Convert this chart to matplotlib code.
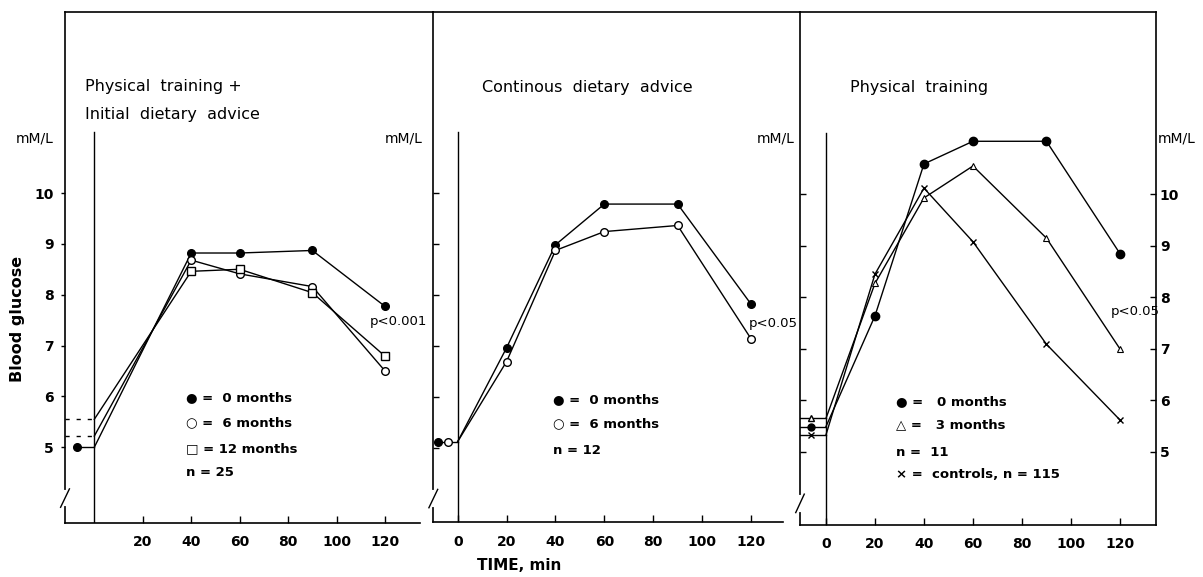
import matplotlib
matplotlib.use("Agg")
import matplotlib.pyplot as plt

plt.rcParams['font.family'] = ['DejaVu Sans']

# ---------------- data ----------------
# Panel 1: Physical training + initial dietary advice (n = 25)
p1_t = [0, 40, 60, 90, 120]
p1_m0 = [5.00, 8.82, 8.82, 8.87, 7.77]
p1_m6 = [5.22, 8.68, 8.41, 8.16, 6.50]
p1_m12 = [5.55, 8.46, 8.50, 8.04, 6.79]
p1_base_t = [-7, -12, -12]
p1_base_v = [5.00, 5.22, 5.55]

# Panel 2: Continous dietary advice (n = 12)
p2_t = [0, 20, 40, 60, 90, 120]
p2_m0 = [5.12, 6.96, 8.98, 9.78, 9.78, 7.82]
p2_m6 = [5.12, 6.69, 8.87, 9.24, 9.36, 7.14]
p2_base_t = [-8, -4]
p2_base_v = [5.12, 5.12]

# Panel 3: Physical training (n = 11) + controls (n = 115)
p3_t = [0, 20, 40, 60, 90, 120]
p3_m0 = [5.49, 7.64, 10.59, 11.03, 11.03, 8.85]
p3_m3 = [5.65, 8.27, 9.93, 10.55, 9.15, 7.00]
p3_ctrl = [5.33, 8.45, 10.12, 9.08, 7.09, 5.62]
p3_base_t = -6
p3_base_start = -10.6

xt_p1 = [20, 40, 60, 80, 100, 120]
xt_p23 = [0, 20, 40, 60, 80, 100, 120]
yt = [5, 6, 7, 8, 9, 10]

W, H = 1203, 577
fig = plt.figure(figsize=(W / 100, H / 100), dpi=100)


def add_ax(l, r, t, b):
    return fig.add_axes([l / W, 1 - b / H, (r - l) / W, (b - t) / H])


LW = 1.0
MS = 5.5
tick_font = dict(fontsize=10, fontweight='bold')


def style(ax, xlim, ylim, xticks, bottom_end, left_labels, right_on):
    ax.set_xlim(*xlim)
    ax.set_ylim(*ylim)
    ax.set_facecolor('white')
    for s in ['left', 'top', 'bottom', 'right']:
        ax.spines[s].set_linewidth(1.2)
        ax.spines[s].set_color('black')
    ax.spines['right'].set_visible(right_on)
    ax.spines['bottom'].set_bounds(xlim[0], bottom_end)
    ax.set_xticks(xticks)
    ax.set_xticklabels([str(v) for v in xticks], **tick_font)
    ax.tick_params(axis='x', direction='in', length=5, width=1.0, pad=9,
                   top=False, bottom=True)
    ax.set_yticks(yt)
    if left_labels:
        ax.set_yticklabels([str(v) for v in yt], **tick_font)
        ax.tick_params(axis='y', direction='out', length=3, width=1.0, pad=5)
    else:
        ax.set_yticklabels([])
        ax.tick_params(axis='y', direction='in', length=4, width=1.0)
    # vertical line at time 0
    ax.axvline(0, ymin=0, ymax=(11.2 - ylim[0]) / (ylim[1] - ylim[0]),
               color='black', lw=1.0)
    # axis break on left spine
    yb = (4.0 - ylim[0]) / (ylim[1] - ylim[0])
    ax.plot([0, 0], [yb - 0.012, yb + 0.012], transform=ax.transAxes,
            color='white', lw=3, clip_on=False, zorder=5)
    ax.plot([-0.012, 0.012], [yb - 0.018, yb + 0.018], transform=ax.transAxes,
            color='black', lw=1.0, clip_on=False, zorder=6)


def series(ax, t, v, marker, face, ms=MS, mew=1.0):
    ax.plot(t, v, color='black', lw=LW, marker=marker, ms=ms,
            mfc=face, mec='black', mew=mew, zorder=3, clip_on=False,
            markevery=list(range(1, len(t))))


# ---------------- panel 1 ----------------
ax1 = add_ax(65, 433, 12, 523)
style(ax1, (-12.1, 139.8), (3.51, 13.56), xt_p1, 134.5, True, False)
series(ax1, p1_t, p1_m0, 'o', 'black')
series(ax1, p1_t, p1_m6, 'o', 'white')
series(ax1, p1_t, p1_m12, 's', 'white', ms=6)
ax1.plot([p1_base_t[0], 0], [p1_base_v[0], p1_base_v[0]], color='black', lw=LW,
         marker='o', ms=MS, mfc='black', mec='black', markevery=[0])
ax1.plot([p1_base_t[1], 0], [p1_base_v[1], p1_base_v[1]], color='black', lw=LW,
         dashes=(3, 5))
ax1.plot([p1_base_t[2], 0], [p1_base_v[2], p1_base_v[2]], color='black', lw=LW,
         dashes=(3, 5))

# ---------------- panel 2 ----------------
ax2 = add_ax(433.3, 800, 12, 522)
style(ax2, (-10.0, 140.1), (3.54, 13.55), xt_p23, 133, False, False)
series(ax2, p2_t, p2_m0, 'o', 'black')
series(ax2, p2_t, p2_m6, 'o', 'white')
ax2.plot([p2_base_t[0], 0], [p2_base_v[0], p2_base_v[0]], color='black', lw=LW)
ax2.plot([p2_base_t[0]], [p2_base_v[0]], 'o', ms=MS, mfc='black', mec='black')
ax2.plot([p2_base_t[1]], [p2_base_v[1]], 'o', ms=MS, mfc='white', mec='black')

# ---------------- panel 3 ----------------
ax3 = add_ax(800, 1155.7, 12, 525)
style(ax3, (-10.6, 134.6), (3.58, 13.54), xt_p23, 134.6, False, True)
ax3.yaxis.tick_right()
ax3.set_yticklabels([str(v) for v in yt], **tick_font)
ax3.tick_params(axis='y', direction='in', length=4, width=1.0, pad=3,
                left=True, right=True, labelleft=False, labelright=True)
series(ax3, p3_t, p3_m0, 'o', 'black', ms=6)
series(ax3, p3_t, p3_m3, '^', 'white', ms=5, mew=0.8)
series(ax3, p3_t, p3_ctrl, 'x', 'black', ms=4, mew=1.0)
for v, m, f in [(p3_m0[0], 'o', 'black'), (p3_m3[0], '^', 'white'),
                (p3_ctrl[0], 'x', 'black')]:
    ax3.plot([p3_base_start, 0], [v, v], color='black', lw=LW)
    ax3.plot([p3_base_t], [v], marker=m, ms=5, mfc=f, mec='black', mew=1.0,
             color='black', ls='none')

# ---------------- texts ----------------
title_kw = dict(fontsize=11.5, ha='left', va='center')
fig.text(85 / W, 1 - 86 / H, "Physical  training +", **title_kw)
fig.text(85 / W, 1 - 114 / H, "Initial  dietary  advice", **title_kw)
fig.text(482 / W, 1 - 87 / H, "Continous  dietary  advice", **title_kw)
fig.text(850 / W, 1 - 87 / H, "Physical  training", **title_kw)

unit_kw = dict(fontsize=10, ha='left', va='center')
fig.text(16 / W, 1 - 138 / H, "mM/L", **unit_kw)
fig.text(385 / W, 1 - 138 / H, "mM/L", **unit_kw)
fig.text(757 / W, 1 - 138 / H, "mM/L", **unit_kw)
fig.text(1158 / W, 1 - 139 / H, "mM/L", **unit_kw)

p_kw = dict(fontsize=9.5, ha='left', va='center')
fig.text(370 / W, 1 - 322 / H, "p<0.001", **p_kw)
fig.text(749 / W, 1 - 323 / H, "p<0.05", **p_kw)
fig.text(1111 / W, 1 - 311 / H, "p<0.05", **p_kw)

leg_kw = dict(fontsize=9.5, fontweight='bold', ha='left', va='center')
fig.text(186 / W, 1 - 398 / H, "● =  0 months", **leg_kw)
fig.text(186 / W, 1 - 423 / H, "○ =  6 months", **leg_kw)
fig.text(186 / W, 1 - 449 / H, "□ = 12 months", **leg_kw)
fig.text(186 / W, 1 - 473 / H, "n = 25", **leg_kw)

fig.text(553 / W, 1 - 400 / H, "● =  0 months", **leg_kw)
fig.text(553 / W, 1 - 424 / H, "○ =  6 months", **leg_kw)
fig.text(553 / W, 1 - 450 / H, "n = 12", **leg_kw)

fig.text(896 / W, 1 - 402 / H, "● =   0 months", **leg_kw)
fig.text(896 / W, 1 - 425 / H, "△ =   3 months", **leg_kw)
fig.text(896 / W, 1 - 452 / H, "n =  11", **leg_kw)
fig.text(896 / W, 1 - 474 / H, "× =  controls, n = 115", **leg_kw)

fig.text(18 / W, 1 - 319 / H, "Blood glucose", fontsize=11.5, fontweight='bold',
         rotation=90, ha='center', va='center')
fig.text(519 / W, 1 - 565 / H, "TIME, min", fontsize=11, fontweight='bold',
         ha='center', va='center')

fig.savefig("out.png", dpi=100, facecolor='white')
